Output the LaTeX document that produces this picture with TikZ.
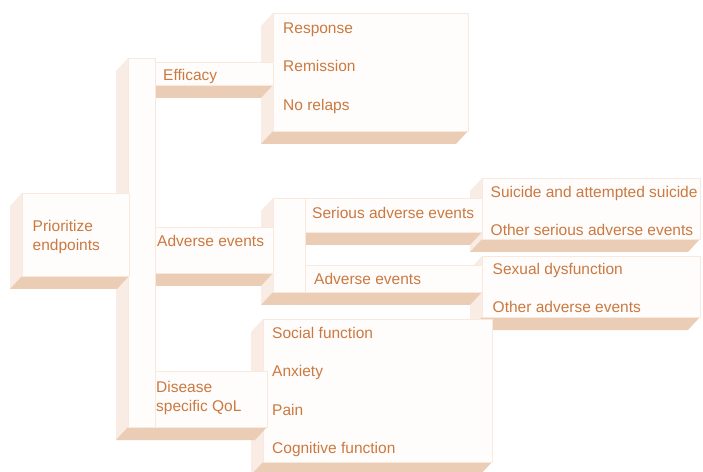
\documentclass[tikz,border=0pt]{standalone}
\usepackage{fontspec}
\setmainfont{Liberation Sans}
\definecolor{txt}{RGB}{203,121,64}
\definecolor{frontfill}{RGB}{255,253,252}
\definecolor{frontline}{RGB}{248,232,222}
\definecolor{sidefill}{RGB}{249,236,229}
\definecolor{floorfill}{RGB}{235,204,180}
\tikzset{
  frontface/.style={fill=frontfill, draw=frontline, line width=0.7bp},
  sideface/.style={fill=sidefill},
  floorface/.style={fill=floorfill},
  lbl/.style={text=txt, inner sep=0pt, anchor=base west,
    font=\fontsize{15.5bp}{19bp}\selectfont},
}
% A slab: front face from (#1,#2) to (#3,#4), extruded by (-12,13)
\newcommand\slab[4]{%
  \fill[sideface] (#1,#2) -- (#1-12,#2+13) -- (#1-12,#4+13) -- (#1,#4) -- cycle;
  \fill[floorface] (#1,#4) -- (#3,#4) -- (#3-12,#4+13) -- (#1-12,#4+13) -- cycle;
  \filldraw[frontface] (#1,#2) rectangle (#3,#4);
}
\begin{document}
\begin{tikzpicture}[x=1bp, y=-1bp]
  \useasboundingbox (0,0) rectangle (703,472);
  \clip (0,0) rectangle (703,472);
  \fill[white] (0,0) rectangle (703,472);

  % leaf boxes
  \slab{273}{13}{468}{131}
  \slab{482}{178}{700}{239}
  \slab{482}{256}{700}{317}
  \slab{263}{319}{492}{462}

  % second-level branch of adverse events
  \slab{305}{198}{482}{232}
  \slab{305}{265}{482}{292}
  \slab{273}{198}{305}{292}

  % first-level branches
  \slab{155}{62}{273}{85}
  \slab{155}{227}{273}{273}
  \slab{155}{371}{267}{427}

  % main spine and root
  \slab{128}{58}{155}{427}
  \slab{22}{193}{129}{276}

  % labels
  \node[lbl] (root1) at (32.5,232) {Prioritize};
  \node[lbl] (root2) at (32.5,251) {endpoints};

  \node[lbl] (eff) at (163,81) {Efficacy};
  \node[lbl] (resp) at (283,34) {Response};
  \node[lbl] (remi) at (283,72) {Remission};
  \node[lbl] (norel) at (283,110.5) {No relaps};

  \node[lbl] (ae) at (157,247) {Adverse events};
  \node[lbl] (sae) at (312,219) {Serious adverse events};
  \node[lbl] (aesub) at (314,285) {Adverse events};
  \node[lbl] (suic) at (490.5,198) {Suicide and attempted suicide};
  \node[lbl] (osae) at (490.5,236) {Other serious adverse events};
  \node[lbl] (sexd) at (492.5,274.5) {Sexual dysfunction};
  \node[lbl] (oae) at (492.5,313) {Other adverse events};

  \node[lbl] (dis1) at (156,392.5) {Disease};
  \node[lbl] (dis2) at (156,411.5) {specific QoL};
  \node[lbl] (soc) at (272,338.5) {Social function};
  \node[lbl] (anx) at (272,376.5) {Anxiety};
  \node[lbl] (pain) at (272,415) {Pain};
  \node[lbl] (cog) at (272,453.5) {Cognitive function};
\end{tikzpicture}
\end{document}
